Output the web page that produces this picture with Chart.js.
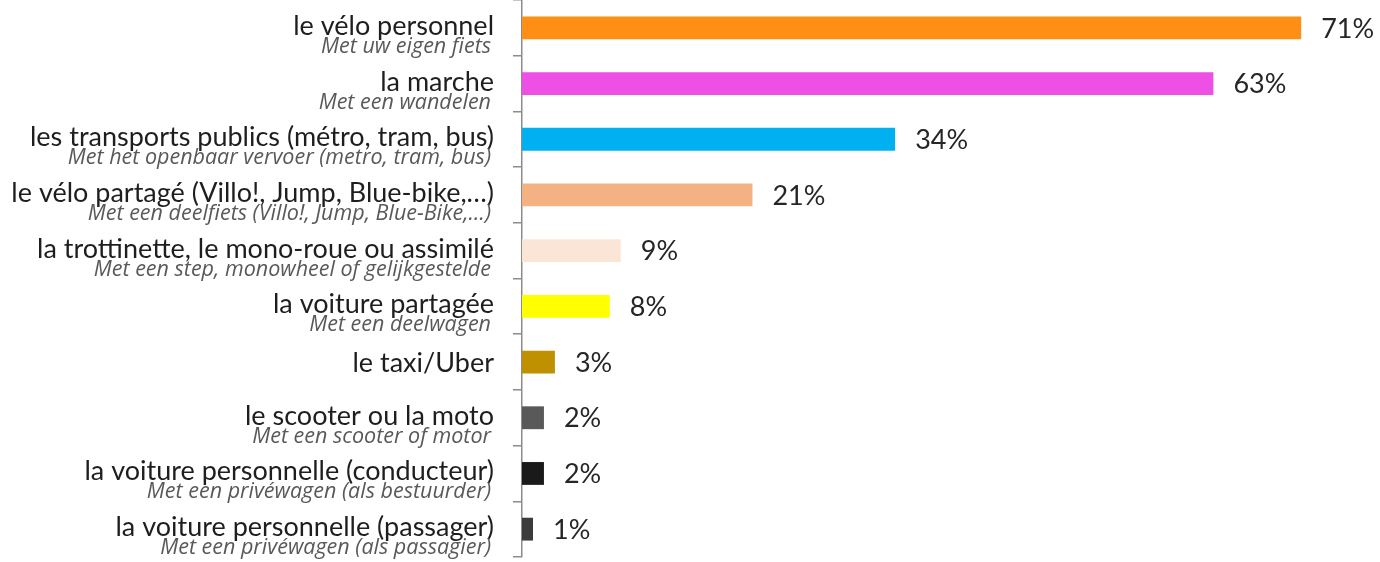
<!DOCTYPE html>
<html lang="fr">
<head>
<meta charset="utf-8">
<title>Modes de déplacement</title>
<script src="https://cdn.jsdelivr.net/npm/chart.js@4/dist/chart.umd.min.js"></script>
<style>
    html, body { margin: 0; padding: 0; background: #fff; }
    #wrap { position: relative; width: 1380px; height: 562px; }
</style>
</head>
<body>
<div id="wrap"><canvas id="modeChart"></canvas></div>
<script>
// Categories (French) with their Dutch translation underneath
const modes = [
    'le vélo personnel',
    'la marche',
    'les transports publics (métro, tram, bus)',
    'le vélo partagé (Villo!, Jump, Blue-bike,…)',
    'la trottinette, le mono-roue ou assimilé',
    'la voiture partagée',
    'le taxi/Uber',
    'le scooter ou la moto',
    'la voiture personnelle (conducteur)',
    'la voiture personnelle (passager)'
];
const modesNl = [
    'Met uw eigen fiets',
    'Met een wandelen',
    'Met het openbaar vervoer (metro, tram, bus)',
    'Met een deelfiets (Villo!, Jump, Blue-Bike,…)',
    'Met een step, monowheel of gelijkgestelde',
    'Met een deelwagen',
    '',
    'Met een scooter of motor',
    'Met een privéwagen (als bestuurder)',
    'Met een privéwagen (als passagier)'
];
const shares = [71, 63, 34, 21, 9, 8, 3, 2, 2, 1];
const barColors = ['#FF8F14', '#EE50E6', '#00B0F0', '#F4B183', '#FBE5D6',
                   '#FFFF00', '#BF9000', '#595959', '#1A1A1A', '#3C3C3C'];

const MAIN_FONT = '27px Lato, "Open Sans", sans-serif';
const SUB_FONT = 'italic 21.5px "Open Sans", sans-serif';

// draws the two-line category labels and the % value after each bar
const labelPlugin = {
    id: 'labelPlugin',
    afterDraw(chart) {
        const ctx = chart.ctx;
        const yScale = chart.scales.y;
        const meta = chart.getDatasetMeta(0);
        const textRight = yScale.right - 28;
        ctx.save();
        modes.forEach((name, i) => {
            const y = yScale.getPixelForValue(i);
            ctx.textAlign = 'right';
            ctx.textBaseline = 'alphabetic';
            ctx.fillStyle = '#1e1e1e';
            ctx.font = MAIN_FONT;
            if (modesNl[i]) {
                ctx.fillText(name, textRight, y + 7);
                ctx.font = SUB_FONT;
                ctx.fillStyle = '#595959';
                ctx.fillText(modesNl[i], textRight - 3, y + 25);
            } else {
                ctx.fillText(name, textRight, y + 10);
            }

            const bar = meta.data[i];
            ctx.textAlign = 'left';
            ctx.textBaseline = 'middle';
            ctx.font = MAIN_FONT;
            ctx.fillStyle = '#262626';
            ctx.fillText(shares[i] + '%', bar.x + 20, bar.y + 1);
        });
        ctx.restore();
    }
};

const ctx = document.getElementById('modeChart').getContext('2d');
new Chart(ctx, {
    type: 'bar',
    data: {
        labels: modes,
        datasets: [{
            data: shares,
            backgroundColor: barColors,
            borderWidth: 0,
            categoryPercentage: 1,
            barPercentage: 0.41
        }]
    },
    options: {
        indexAxis: 'y',
        responsive: true,
        maintainAspectRatio: false,
        animation: false,
        layout: { padding: { top: 0, right: 2, bottom: 5, left: 0 } },
        plugins: {
            legend: { display: false },
            tooltip: { enabled: false }
        },
        scales: {
            x: { min: 0, max: 78, display: false },
            y: {
                ticks: { display: false },
                grid: {
                    drawOnChartArea: false,
                    tickLength: 9,
                    color: '#8c8c8c',
                    lineWidth: 1.5,
                    offset: true
                },
                border: { color: '#8c8c8c', width: 1.5 },
                afterFit(scale) { scale.width = 522; }
            }
        }
    },
    plugins: [labelPlugin]
});
</script>
</body>
</html>
